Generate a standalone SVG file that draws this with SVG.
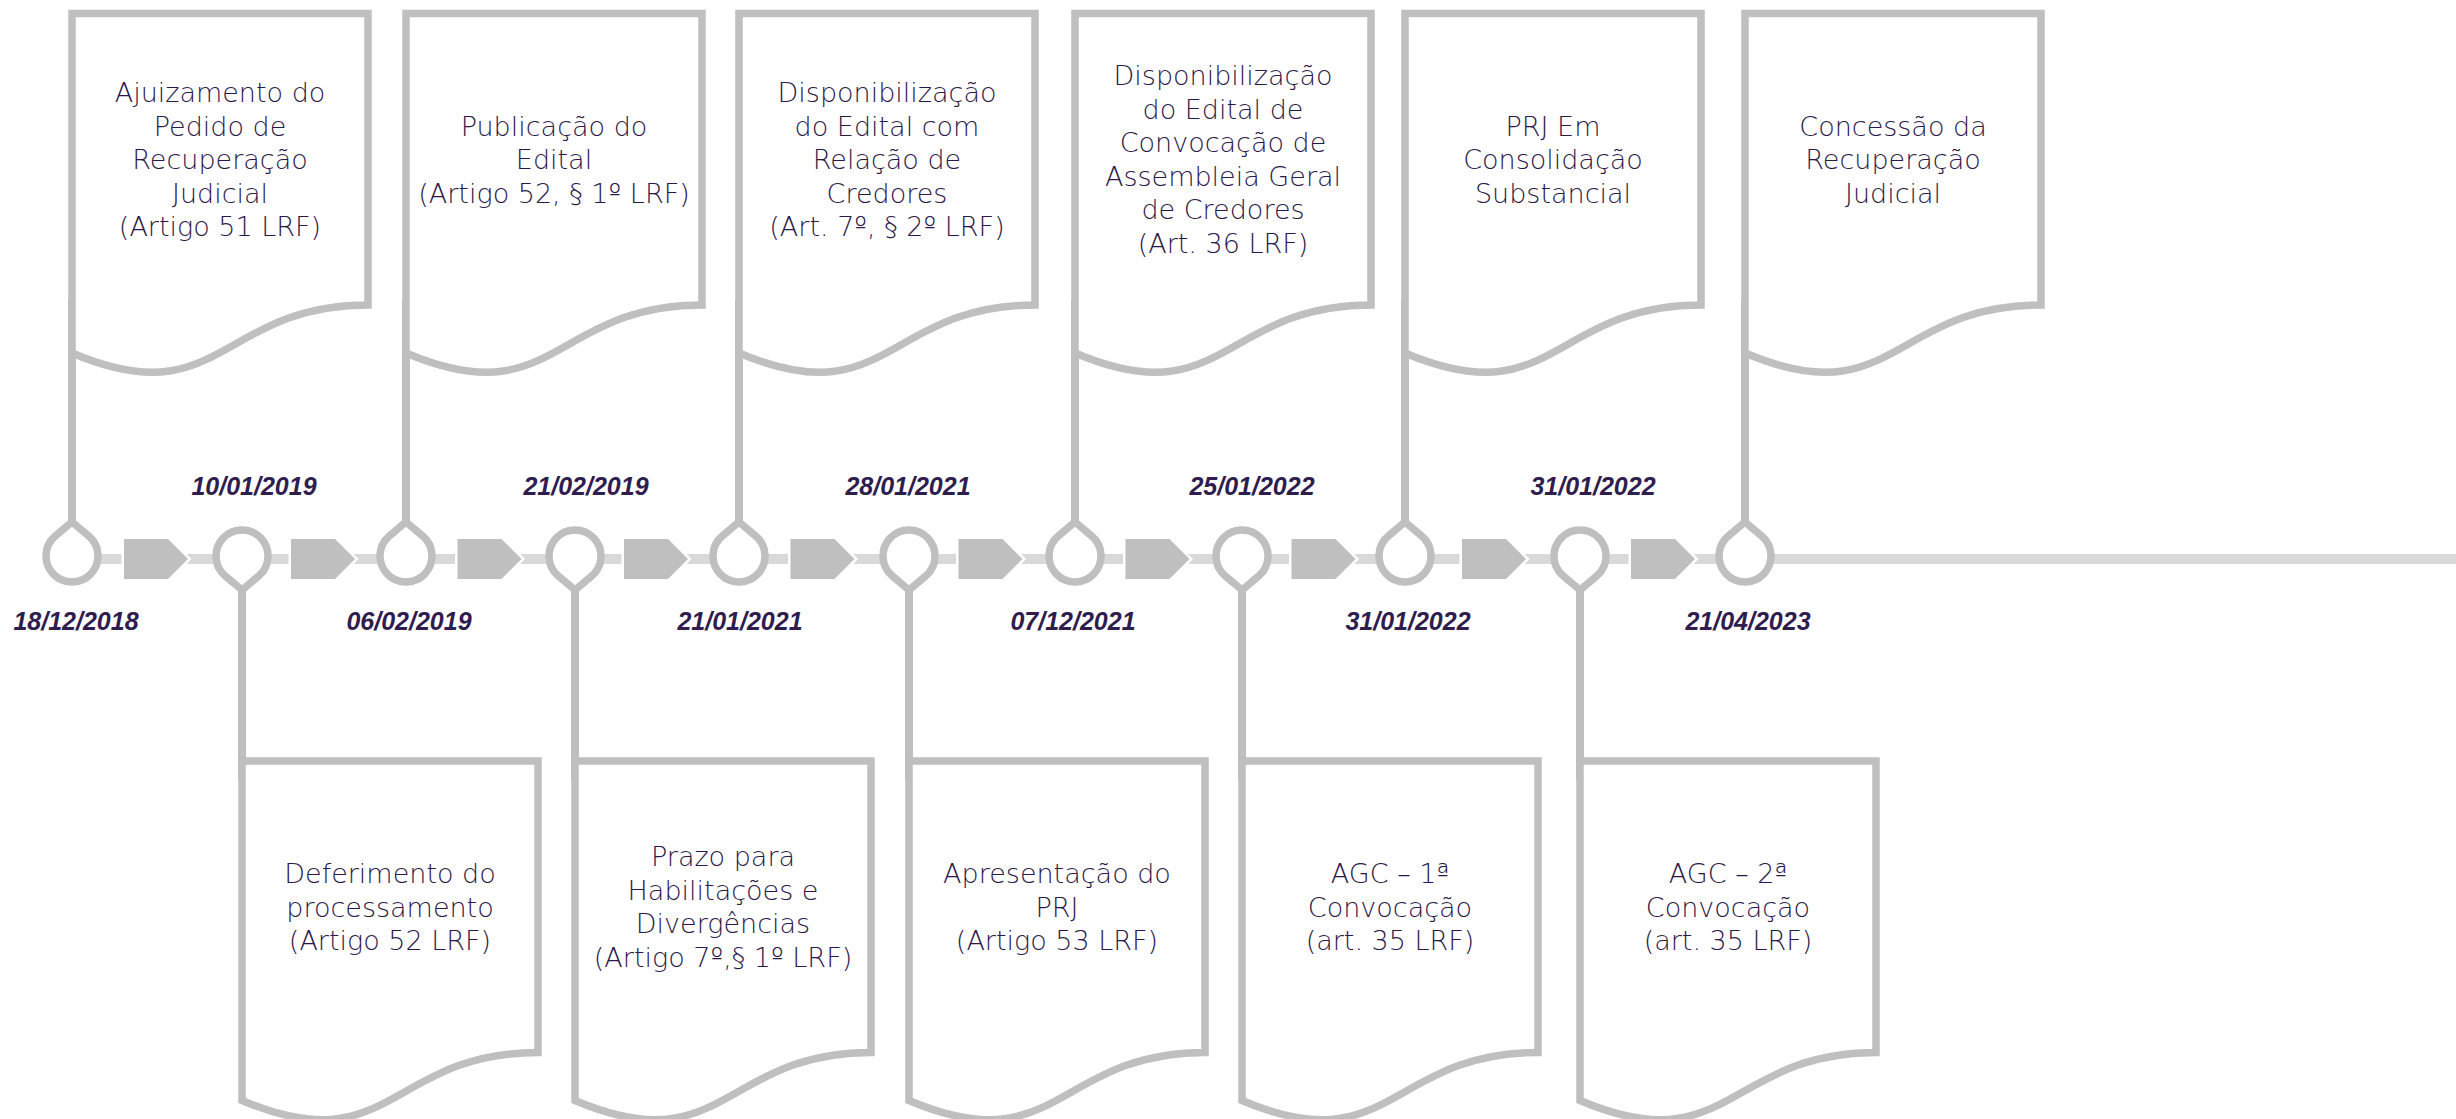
<svg xmlns="http://www.w3.org/2000/svg" xmlns:xlink="http://www.w3.org/1999/xlink" width="2456" height="1119" viewBox="0 0 2456 1119">
<style>
.doc{fill:#ffffff;stroke:#bfbfbf;stroke-width:7.5;stroke-linejoin:miter}
.pin{fill:#ffffff;stroke:#bfbfbf;stroke-width:7.5;stroke-linejoin:miter;stroke-miterlimit:10}
.vline{stroke:#bfbfbf;stroke-width:8;fill:none}
.bar{fill:#d9d9d9}
.chev{fill:#bfbfbf;stroke:#ffffff;stroke-width:5;paint-order:stroke}
.t{font-family:"DejaVu Sans","Liberation Sans",sans-serif;font-size:27px;font-weight:300;fill:#2c1848;text-anchor:middle}
.d{font-family:"Liberation Sans",Arial,sans-serif;font-size:25px;font-weight:bold;font-style:italic;fill:#2f1d4e;text-anchor:middle}
</style>
<defs>
<path id="docshape" d="M0,0 H296 V291.5 C148,291.5 148,402.4 0,339.5 Z"/>
<path id="pinUp" d="M0,-34 L16.82,-19.83 A26,26 0 1 1 -16.82,-19.83 Z"/>
<path id="pinDown" d="M0,34 L-16.82,19.83 A26,26 0 1 1 16.82,19.83 Z"/>
<path id="chevShape" d="M-32,-20 H12 L32,0 L12,20 H-32 Z"/>
</defs>

<g id="timeline">
<rect class="bar" x="100" y="554" width="2356" height="10"/>
<use href="#chevShape" class="chev" transform="translate(156,559)"/>
<use href="#chevShape" class="chev" transform="translate(323,559)"/>
<use href="#chevShape" class="chev" transform="translate(489.5,559)"/>
<use href="#chevShape" class="chev" transform="translate(656,559)"/>
<use href="#chevShape" class="chev" transform="translate(822.5,559)"/>
<use href="#chevShape" class="chev" transform="translate(990.5,559)"/>
<use href="#chevShape" class="chev" transform="translate(1157.5,559)"/>
<use href="#chevShape" class="chev" transform="translate(1323.5,559)"/>
<use href="#chevShape" class="chev" transform="translate(1494,559)"/>
<use href="#chevShape" class="chev" transform="translate(1663,559)"/>
</g>

<g id="connectors">
<line class="vline" x1="72" y1="300" x2="72" y2="523"/>
<line class="vline" x1="406" y1="300" x2="406" y2="523"/>
<line class="vline" x1="739" y1="300" x2="739" y2="523"/>
<line class="vline" x1="1075" y1="300" x2="1075" y2="523"/>
<line class="vline" x1="1405" y1="300" x2="1405" y2="523"/>
<line class="vline" x1="1745" y1="300" x2="1745" y2="523"/>
<line class="vline" x1="242" y1="589" x2="242" y2="780"/>
<line class="vline" x1="575" y1="589" x2="575" y2="780"/>
<line class="vline" x1="909" y1="589" x2="909" y2="780"/>
<line class="vline" x1="1242" y1="589" x2="1242" y2="780"/>
<line class="vline" x1="1580" y1="589" x2="1580" y2="780"/>
</g>

<g id="pins">
<use href="#pinUp" class="pin" transform="translate(72,556)"/>
<use href="#pinDown" class="pin" transform="translate(242,556)"/>
<use href="#pinUp" class="pin" transform="translate(406,556)"/>
<use href="#pinDown" class="pin" transform="translate(575,556)"/>
<use href="#pinUp" class="pin" transform="translate(739,556)"/>
<use href="#pinDown" class="pin" transform="translate(909,556)"/>
<use href="#pinUp" class="pin" transform="translate(1075,556)"/>
<use href="#pinDown" class="pin" transform="translate(1242,556)"/>
<use href="#pinUp" class="pin" transform="translate(1405,556)"/>
<use href="#pinDown" class="pin" transform="translate(1580,556)"/>
<use href="#pinUp" class="pin" transform="translate(1745,556)"/>
</g>

<g id="dates">
<text class="d" x="76" y="630">18/12/2018</text>
<text class="d" x="254" y="495">10/01/2019</text>
<text class="d" x="409" y="630">06/02/2019</text>
<text class="d" x="586" y="495">21/02/2019</text>
<text class="d" x="740" y="630">21/01/2021</text>
<text class="d" x="908" y="495">28/01/2021</text>
<text class="d" x="1073" y="630">07/12/2021</text>
<text class="d" x="1252" y="495">25/01/2022</text>
<text class="d" x="1408" y="630">31/01/2022</text>
<text class="d" x="1593" y="495">31/01/2022</text>
<text class="d" x="1748" y="630">21/04/2023</text>
</g>

<g id="node-ajuizamento">
<use href="#docshape" class="doc" transform="translate(72,13.5)"/>
<text class="t"><tspan x="220" y="102">Ajuizamento do</tspan><tspan x="220" y="135.5">Pedido de</tspan><tspan x="220" y="169">Recuperação</tspan><tspan x="220" y="202.5">Judicial</tspan><tspan x="220" y="236">(Artigo 51 LRF)</tspan></text>
</g>
<g id="node-publicacao">
<use href="#docshape" class="doc" transform="translate(406,13.5)"/>
<text class="t"><tspan x="554" y="135.5">Publicação do</tspan><tspan x="554" y="169">Edital</tspan><tspan x="554" y="202.5">(Artigo 52, § 1º LRF)</tspan></text>
</g>
<g id="node-disponibilizacao-relacao">
<use href="#docshape" class="doc" transform="translate(739,13.5)"/>
<text class="t"><tspan x="887" y="102">Disponibilização</tspan><tspan x="887" y="135.5">do Edital com</tspan><tspan x="887" y="169">Relação de</tspan><tspan x="887" y="202.5">Credores</tspan><tspan x="887" y="236">(Art. 7º, § 2º LRF)</tspan></text>
</g>
<g id="node-disponibilizacao-convocacao">
<use href="#docshape" class="doc" transform="translate(1075,13.5)"/>
<text class="t"><tspan x="1223" y="85.25">Disponibilização</tspan><tspan x="1223" y="118.75">do Edital de</tspan><tspan x="1223" y="152.25">Convocação de</tspan><tspan x="1223" y="185.75">Assembleia Geral</tspan><tspan x="1223" y="219.25">de Credores</tspan><tspan x="1223" y="252.75">(Art. 36 LRF)</tspan></text>
</g>
<g id="node-prj-consolidacao">
<use href="#docshape" class="doc" transform="translate(1405,13.5)"/>
<text class="t"><tspan x="1553" y="135.5">PRJ Em</tspan><tspan x="1553" y="169">Consolidação</tspan><tspan x="1553" y="202.5">Substancial</tspan></text>
</g>
<g id="node-concessao">
<use href="#docshape" class="doc" transform="translate(1745,13.5)"/>
<text class="t"><tspan x="1893" y="135.5">Concessão da</tspan><tspan x="1893" y="169">Recuperação</tspan><tspan x="1893" y="202.5">Judicial</tspan></text>
</g>

<g id="node-deferimento">
<use href="#docshape" class="doc" transform="translate(242,761)"/>
<text class="t"><tspan x="390" y="883.2">Deferimento do</tspan><tspan x="390" y="916.7">processamento</tspan><tspan x="390" y="950.2">(Artigo 52 LRF)</tspan></text>
</g>
<g id="node-prazo">
<use href="#docshape" class="doc" transform="translate(575,761)"/>
<text class="t"><tspan x="723" y="866.45">Prazo para</tspan><tspan x="723" y="899.95">Habilitações e</tspan><tspan x="723" y="933.45">Divergências</tspan><tspan x="723" y="966.95">(Artigo 7º,§ 1º LRF)</tspan></text>
</g>
<g id="node-apresentacao">
<use href="#docshape" class="doc" transform="translate(909,761)"/>
<text class="t"><tspan x="1057" y="883.2">Apresentação do</tspan><tspan x="1057" y="916.7">PRJ</tspan><tspan x="1057" y="950.2">(Artigo 53 LRF)</tspan></text>
</g>
<g id="node-agc1">
<use href="#docshape" class="doc" transform="translate(1242,761)"/>
<text class="t"><tspan x="1390" y="883.2">AGC – 1ª</tspan><tspan x="1390" y="916.7">Convocação</tspan><tspan x="1390" y="950.2">(art. 35 LRF)</tspan></text>
</g>
<g id="node-agc2">
<use href="#docshape" class="doc" transform="translate(1580,761)"/>
<text class="t"><tspan x="1728" y="883.2">AGC – 2ª</tspan><tspan x="1728" y="916.7">Convocação</tspan><tspan x="1728" y="950.2">(art. 35 LRF)</tspan></text>
</g>
</svg>
